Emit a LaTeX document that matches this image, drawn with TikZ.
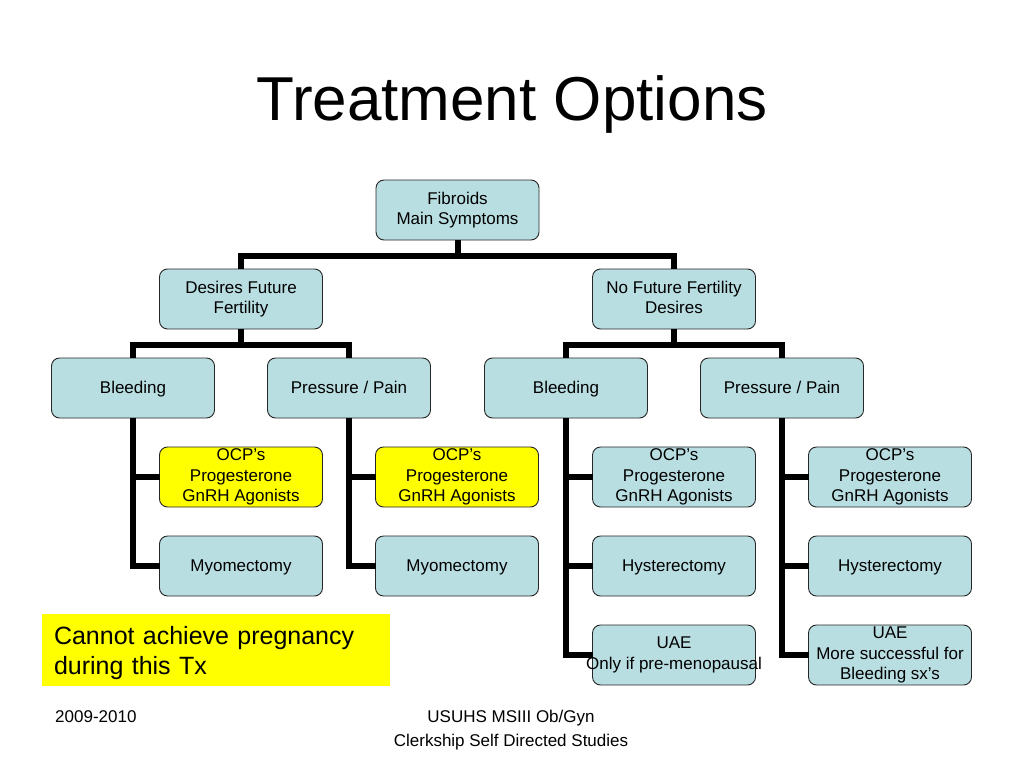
\documentclass[tikz,border=0pt]{standalone}
\usepackage{fontspec}
\setmainfont{Liberation Sans}
\usetikzlibrary{positioning}
\definecolor{boxblue}{RGB}{185,222,226}
\definecolor{hiyellow}{RGB}{255,255,0}
\newcommand{\linestrut}{\rule[-3.6pt]{0pt}{19pt}}
\tikzset{
  box/.style={rectangle, draw=black!85, line width=0.9pt, rounded corners=8pt, minimum width=163pt, minimum height=60pt, inner xsep=2pt, inner ysep=0pt, outer sep=0pt, align=center, fill=boxblue, font=\fontsize{17}{20.5}\selectfont, execute at begin node=\linestrut, execute at end node=\linestrut},
  hibox/.style={box, fill=hiyellow},
  link/.style={line width=6pt, black},
  note/.style={rectangle, fill=hiyellow, minimum width=348pt, minimum height=72pt, inner xsep=12pt, text width=324pt, align=left, font=\fontsize{25}{30}\selectfont},
  footer/.style={inner sep=0pt, font=\fontsize{17}{24}\selectfont}
}

\begin{document}
\begin{tikzpicture}[x=1pt, y=-1pt, node distance=29pt and 53.5pt]
  \useasboundingbox (0,0) rectangle (1024,768);
  % Title
  \node[anchor=base, inner sep=0pt, font=\fontsize{62}{70}\selectfont] (title) at (512,120) {Treatment Options};

  % Nodes
  \node[box] (fib) at (457.5,210) {Fibroids\\Main Symptoms};
  \node[box, below left=of fib] (dff) {Desires Future\\Fertility};
  \node[box, below right=of fib] (nff) {No Future Fertility\\Desires};

  \node[box, below=29pt of dff, xshift=-108pt] (bleedA) {Bleeding};
  \node[box, below=29pt of dff, xshift=108pt] (painA) {Pressure / Pain};
  \node[box, below=29pt of nff, xshift=-108pt] (bleedB) {Bleeding};
  \node[box, below=29pt of nff, xshift=108pt] (painB) {Pressure / Pain};

  \node[hibox, below=29pt of bleedA, xshift=108pt] (ocpA) {OCP's\\Progesterone\\GnRH Agonists};
  \node[box, below=of ocpA] (myoA) {Myomectomy};

  \node[hibox, below=29pt of painA, xshift=108pt] (ocpB) {OCP's\\Progesterone\\GnRH Agonists};
  \node[box, below=of ocpB] (myoB) {Myomectomy};

  \node[box, below=29pt of bleedB, xshift=108pt] (ocpC) {OCP's\\Progesterone\\GnRH Agonists};
  \node[box, below=of ocpC] (hysC) {Hysterectomy};
  \node[box, below=of hysC] (uaeC) {UAE\\\makebox[0pt]{Only if pre-menopausal}};

  \node[box, below=29pt of painB, xshift=108pt] (ocpD) {OCP's\\Progesterone\\GnRH Agonists};
  \node[box, below=of ocpD] (hysD) {Hysterectomy};
  \node[box, below=of hysD] (uaeD) {UAE\\More successful for\\Bleeding sx's};

  % Connections
  \draw[link] (fib.south) -- ++(0,16) -| (dff.north);
  \draw[link] (fib.south) -- ++(0,16) -| (nff.north);
  \draw[link] (dff.south) -- ++(0,16) -| (bleedA.north);
  \draw[link] (dff.south) -- ++(0,16) -| (painA.north);
  \draw[link] (nff.south) -- ++(0,16) -| (bleedB.north);
  \draw[link] (nff.south) -- ++(0,16) -| (painB.north);

  \draw[link] (bleedA.south) |- (ocpA.west);
  \draw[link] (bleedA.south) |- (myoA.west);
  \draw[link] (painA.south) |- (ocpB.west);
  \draw[link] (painA.south) |- (myoB.west);
  \draw[link] (bleedB.south) |- (ocpC.west);
  \draw[link] (bleedB.south) |- (hysC.west);
  \draw[link] (bleedB.south) |- (uaeC.west);
  \draw[link] (painB.south) |- (ocpD.west);
  \draw[link] (painB.south) |- (hysD.west);
  \draw[link] (painB.south) |- (uaeD.west);

  % Note and footer
  \node[note] (warn) at (216,650) {\rule{0pt}{25pt}Cannot achieve pregnancy\\during this Tx};
  \node[footer, anchor=base west] (year) at (55,722) {2009-2010};
  \node[footer, align=center] (org) at (511,730) {USUHS MSIII Ob/Gyn\\Clerkship Self Directed Studies};
\end{tikzpicture}
\end{document}
